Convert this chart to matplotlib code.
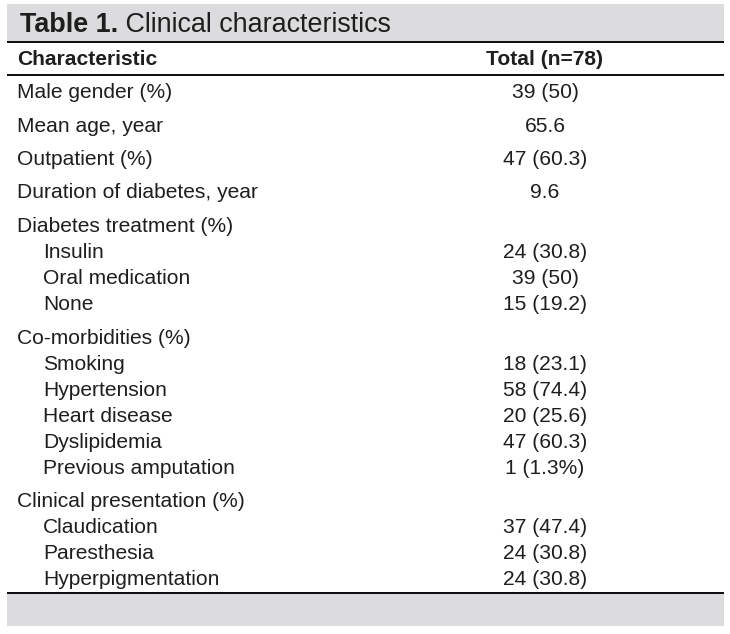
import matplotlib
matplotlib.use("Agg")
import matplotlib.pyplot as plt
from matplotlib.patches import Rectangle

# ---- data ----
title_bold = "Table 1."
title_rest = " Clinical characteristics"
col_headers = ["Characteristic", "Total (n=78)"]
labels = ["Male gender (%)", "Mean age, year", "Outpatient (%)",
          "Duration of diabetes, year", "Diabetes treatment (%)",
          "Insulin", "Oral medication", "None",
          "Co-morbidities (%)", "Smoking", "Hypertension", "Heart disease",
          "Dyslipidemia", "Previous amputation",
          "Clinical presentation (%)", "Claudication", "Paresthesia",
          "Hyperpigmentation"]
values = ["39 (50)", "65.6", "47 (60.3)", "9.6", "",
          "24 (30.8)", "39 (50)", "15 (19.2)",
          "", "18 (23.1)", "58 (74.4)", "20 (25.6)", "47 (60.3)", "1 (1.3%)",
          "", "37 (47.4)", "24 (30.8)", "24 (30.8)"]
indented = [False, False, False, False, False,
            True, True, True,
            False, True, True, True, True, True,
            False, True, True, True]

W, H = 730, 634
fig = plt.figure(figsize=(W / 100, H / 100), dpi=100)
ax = fig.add_axes([0, 0, 1, 1])
ax.set_xlim(0, W)
ax.set_ylim(H, 0)
ax.axis("off")

FONT = "Liberation Sans"
TXT = "#1e1e1e"
GRAY = "#dcdcde"
FS = 15.1
FS_T = 19.4
px = 0.72  # points per pixel at dpi 100

# title band
ax.add_patch(Rectangle((7, 4), 717, 37, facecolor=GRAY, edgecolor="none"))
t1 = ax.text(20, 32, title_bold, fontsize=FS_T, fontweight="bold",
             family=FONT, color=TXT, va="baseline", ha="left")
fig.canvas.draw()
bb = t1.get_window_extent()
x_end = bb.x1
ax.text(x_end, 32, title_rest, fontsize=FS_T, family=FONT, color=TXT,
        va="baseline", ha="left")

# lines
ax.plot([7, 724], [42, 42], color="#111111", lw=2 * px, solid_capstyle="butt")
ax.plot([7, 724], [75, 75], color="#111111", lw=2 * px, solid_capstyle="butt")
ax.plot([7, 724], [593, 593], color="#111111", lw=2 * px, solid_capstyle="butt")

# bottom band
ax.add_patch(Rectangle((7, 594), 717, 32, facecolor=GRAY, edgecolor="none"))

VAL_X = 545
ax.text(17, 65, col_headers[0], fontsize=FS, fontweight="bold", family=FONT,
        color=TXT, va="baseline", ha="left")
ax.text(VAL_X, 65, col_headers[1], fontsize=FS, fontweight="bold", family=FONT,
        color=TXT, va="baseline", ha="center")

y = 98
for i, (lab, val, ind) in enumerate(zip(labels, values, indented)):
    if i > 0:
        y += 26 if ind else 33.5
    ax.text(43 if ind else 17, y, lab, fontsize=FS, family=FONT, color=TXT,
            va="baseline", ha="left")
    if val:
        ax.text(VAL_X, y, val, fontsize=FS, family=FONT, color=TXT,
                va="baseline", ha="center")

fig.savefig("out.png", dpi=100, facecolor="white")
